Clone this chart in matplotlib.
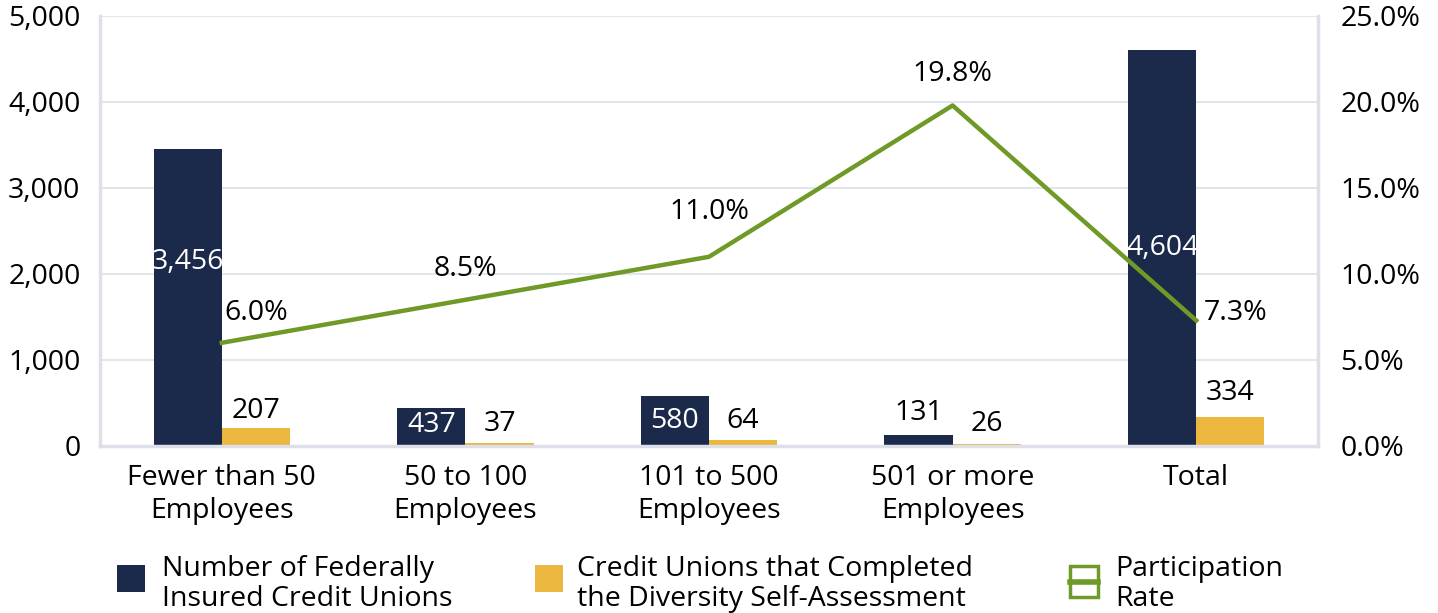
import matplotlib
matplotlib.use("Agg")
import matplotlib.pyplot as plt
from matplotlib.patches import Rectangle
from matplotlib.lines import Line2D
import numpy as np

plt.rcParams['font.family'] = ['Open Sans', 'DejaVu Sans']

categories = ["Fewer than 50\nEmployees", "50 to 100\nEmployees", "101 to 500\nEmployees",
              "501 or more\nEmployees", "Total"]
federally_insured = [3456, 437, 580, 131, 4604]
completed = [207, 37, 64, 26, 334]
participation = [6.0, 8.5, 11.0, 19.8, 7.3]
left_ticks = [0, 1000, 2000, 3000, 4000, 5000]
right_ticks = [0, 5, 10, 15, 20, 25]

NAVY = "#1b2a4a"
GOLD = "#ebb73f"
GREEN = "#6f9a27"
GRID = "#dde0e8"

W, H = 1438, 613
fig = plt.figure(figsize=(W/100, H/100), dpi=100)
ax = fig.add_axes([100/W, 1-446/H, 1218/W, 430/H])

x = np.arange(len(categories))
bw = 0.28
ax.bar(x - bw/2, federally_insured, bw, color=NAVY, zorder=2)
ax.bar(x + bw/2, completed, bw, color=GOLD, zorder=2)

ax.set_xlim(-0.5, len(categories) - 0.5)
ax.set_ylim(0, 5000)
ax.set_yticks(left_ticks)
ax.set_yticklabels([f"{v:,}" for v in left_ticks])
ax.set_xticks(x)
ax.set_xticklabels(categories, linespacing=1.25)
ax.tick_params(axis='both', length=0, labelsize=20.5, colors="black")
ax.tick_params(axis='y', pad=14)
ax.tick_params(axis='x', pad=13)
ax.grid(axis='y', color=GRID, linewidth=1.2, zorder=0)
ax.spines['top'].set_visible(False)
for s in ['left', 'bottom', 'right']:
    ax.spines[s].set_color(GRID)
    ax.spines[s].set_linewidth(2.5)

ax2 = ax.twinx()
ax2.set_ylim(0, 25)
ax2.set_yticks(right_ticks)
ax2.set_yticklabels([f"{v:.1f}%" for v in right_ticks])
ax2.tick_params(axis='y', length=0, labelsize=20.5, pad=16)
for s in ax2.spines.values():
    s.set_visible(False)
ax2.plot(x, participation, color=GREEN, linewidth=3.2, zorder=3)

# bar value labels (positions follow the reference)
nav_label_y = [2140, 244, 290, 384, 2302]
nav_colors = ["white", "white", "white", "black", "white"]
for i, v in enumerate(federally_insured):
    ax.text(x[i] - bw/2, nav_label_y[i], f"{v:,}", ha='center', va='center',
            fontsize=20.5, color=nav_colors[i], zorder=4)
gold_label_y = [407, 256, 290, 256, 616]
for i, v in enumerate(completed):
    ax.text(x[i] + bw/2, gold_label_y[i], f"{v:,}", ha='center', va='center',
            fontsize=20.5, color="black", zorder=4)

# participation labels
pl_dx = [0.14, 0.0, 0.0, 0.0, 0.03]
pl_y = [7.75, 10.3, 13.6, 21.6, 7.75]
pl_ha = ['center', 'center', 'center', 'center', 'left']
for i, v in enumerate(participation):
    ax2.text(x[i] + pl_dx[i], pl_y[i], f"{v:.1f}%", ha=pl_ha[i], va='center',
             fontsize=20.5, color="black", zorder=5)

# legend (manual)
def fx(px): return px / W
def fy(py): return 1 - py / H

fig.add_artist(Rectangle((fx(117), fy(592)), 28/W, 27/H, transform=fig.transFigure,
                         facecolor=NAVY, edgecolor='none'))
fig.text(fx(162), fy(584), "Number of Federally\nInsured Credit Unions", fontsize=20.5,
         va='center', ha='left', linespacing=1.1)
fig.add_artist(Rectangle((fx(535), fy(592)), 28/W, 27/H, transform=fig.transFigure,
                         facecolor=GOLD, edgecolor='none'))
fig.text(fx(577), fy(584), "Credit Unions that Completed\nthe Diversity Self-Assessment",
         fontsize=20.5, va='center', ha='left', linespacing=1.1)
fig.add_artist(Rectangle((fx(1070), fy(597)), 28/W, 31/H, transform=fig.transFigure,
                         facecolor='white', edgecolor=GREEN, linewidth=2.5))
fig.add_artist(Line2D([fx(1070), fx(1098)], [fy(581.5), fy(581.5)], transform=fig.transFigure,
                      color=GREEN, linewidth=4))
fig.text(fx(1115), fy(584), "Participation\nRate", fontsize=20.5, va='center', ha='left',
         linespacing=1.1)

fig.savefig("out.png", dpi=100)
